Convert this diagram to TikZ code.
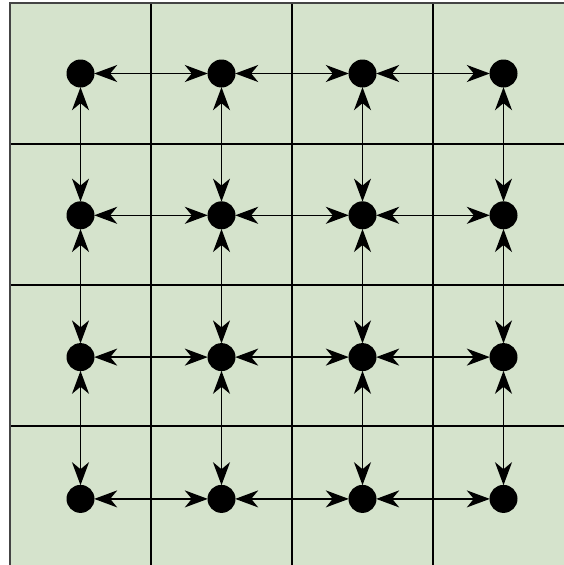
\documentclass[tikz,border=0pt]{standalone}
\usetikzlibrary{arrows.meta}
\definecolor{cellgreen}{HTML}{D5E3CC}
\definecolor{edgegray}{HTML}{444444}
\tikzset{
  dot/.style={circle,fill=black,inner sep=0pt,minimum size=28pt},
  link/.style={line width=1.5pt,{Stealth[length=23pt,width=17pt,inset=7pt]}-{Stealth[length=23pt,width=17pt,inset=7pt]},shorten <=-0.5pt,shorten >=-0.5pt},
  gridline/.style={line width=1.5pt,black},
  border/.style={line width=1.5pt,edgegray}
}
\begin{document}
\begin{tikzpicture}[x=1pt,y=-1pt]
  \useasboundingbox (0,0) rectangle (564,565);
  \clip (0,0) rectangle (564,565);
  % cell background
  \fill[cellgreen] (10,3) rectangle (580,570);
  % inner grid lines
  \foreach \k in {1,2,3} {
    \draw[gridline] (10+141*\k,3) -- (10+141*\k,570);
    \draw[gridline] (10,3+141*\k) -- (580,3+141*\k);
  }
  % outer border
  \draw[border] (10,570) -- (10,3) -- (580,3);
  % lattice points
  \foreach \i in {0,1,2,3} {
    \foreach \j in {0,1,2,3} {
      \node[dot] (n-\i-\j) at (80.5+141*\i,73.5+141*\j+0.8*\j) {};
    }
  }
  % horizontal links
  \foreach \i/\ni in {0/1,1/2,2/3} {
    \foreach \j in {0,1,2,3} {
      \draw[link] (n-\i-\j) -- (n-\ni-\j);
    }
  }
  % vertical links
  \foreach \j/\nj in {0/1,1/2,2/3} {
    \foreach \i in {0,1,2,3} {
      \draw[link] (n-\i-\j) -- (n-\i-\nj);
    }
  }
\end{tikzpicture}
\end{document}
